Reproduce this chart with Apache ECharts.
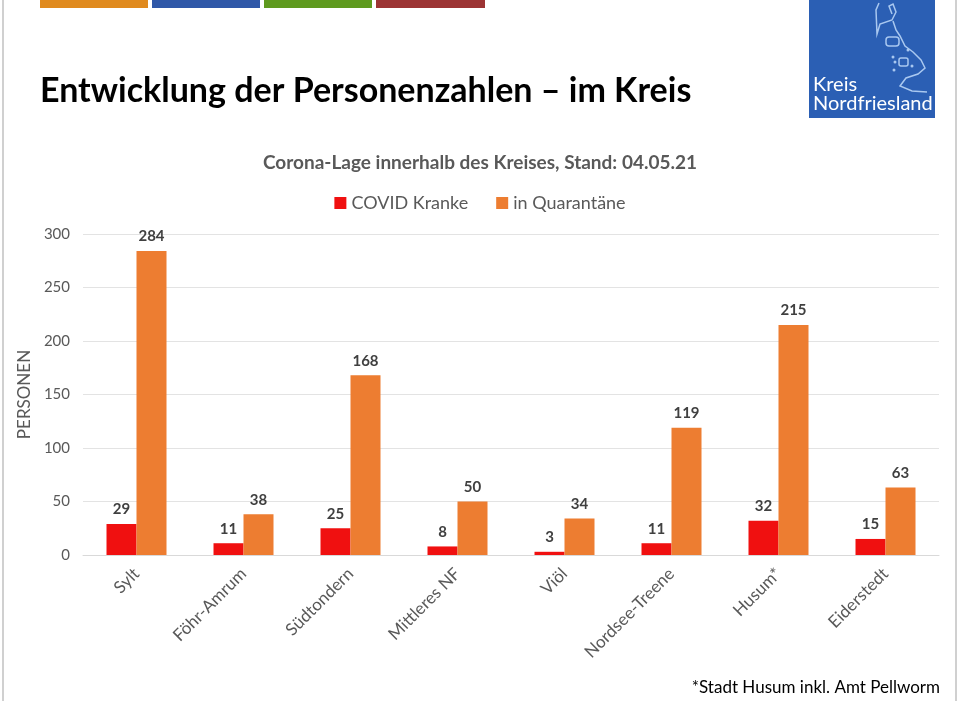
<!DOCTYPE html>
<html>
<head>
<meta charset="utf-8">
<script src="https://cdn.jsdelivr.net/npm/echarts@6/dist/echarts.min.js"></script>
<style>
  html, body { margin: 0; padding: 0; background: #fff; }
  #main { width: 960px; height: 701px; }
</style>
</head>
<body>
<div id="main"></div>
<script>
// Daten
const regions = ['Sylt', 'Föhr-Amrum', 'Südtondern', 'Mittleres NF', 'Viöl', 'Nordsee-Treene', 'Husum*', 'Eiderstedt'];
const kranke = [29, 11, 25, 8, 3, 11, 32, 15];
const quarantaene = [284, 38, 168, 50, 34, 119, 215, 63];
const seriesNames = ['COVID Kranke', 'in Quarantäne'];

window.addEventListener('load', function () {
    let chart = echarts.init(document.getElementById('main'));

    let labelStyle = {
        show: true,
        position: 'top',
        fontFamily: 'Lato',
        fontWeight: 'bold',
        fontSize: 15,
        color: '#404040',
        distance: 7
    };

    let option = {
        backgroundColor: '#fff',
        animation: false,
        textStyle: { fontFamily: 'Lato' },
        title: {
            text: 'Corona-Lage innerhalb des Kreises, Stand: 04.05.21',
            left: 'center',
            top: 148,
            textStyle: { fontFamily: 'Lato', fontSize: 19, fontWeight: 'bold', color: '#595959' }
        },
        legend: {
            top: 189,
            left: 'center',
            itemWidth: 12,
            itemHeight: 12,
            itemGap: 28,
            icon: 'rect',
            data: seriesNames,
            textStyle: { fontFamily: 'Lato', fontSize: 18, color: '#595959' }
        },
        grid: { left: 83, right: 21, top: 234, bottom: 146 },
        xAxis: {
            type: 'category',
            data: regions,
            axisLine: { lineStyle: { color: '#d9d9d9' } },
            axisTick: { show: false },
            axisLabel: {
                rotate: 45,
                fontFamily: 'Lato',
                fontSize: 17,
                color: '#595959',
                margin: 16
            }
        },
        yAxis: {
            type: 'value',
            min: 0,
            max: 300,
            interval: 50,
            name: 'PERSONEN',
            nameLocation: 'middle',
            nameGap: 50,
            nameTextStyle: { fontFamily: 'Lato', fontSize: 17, color: '#595959' },
            axisLine: { show: false },
            axisTick: { show: false },
            axisLabel: { fontFamily: 'Lato', fontSize: 15, color: '#595959', margin: 13 },
            splitLine: { lineStyle: { color: '#e3e3e3' } }
        },
        series: [
            {
                name: seriesNames[0],
                type: 'bar',
                data: kranke,
                barWidth: 30,
                barGap: '0%',
                itemStyle: { color: '#f01010' },
                label: labelStyle
            },
            {
                name: seriesNames[1],
                type: 'bar',
                data: quarantaene,
                barWidth: 30,
                itemStyle: { color: '#ed7d31' },
                label: labelStyle
            }
        ],
        graphic: [
            // Folienrand
            { type: 'line', shape: { x1: 3, y1: 0, x2: 3, y2: 701 }, style: { stroke: '#d0d0d0', lineWidth: 2 } },
            { type: 'line', shape: { x1: 956, y1: 0, x2: 956, y2: 701 }, style: { stroke: '#d0d0d0', lineWidth: 2 } },
            // Farbbalken oben
            { type: 'rect', shape: { x: 40, y: 0, width: 108, height: 8 }, style: { fill: '#e08a1e' } },
            { type: 'rect', shape: { x: 152, y: 0, width: 108, height: 8 }, style: { fill: '#2f58a8' } },
            { type: 'rect', shape: { x: 264, y: 0, width: 108, height: 8 }, style: { fill: '#5f9a1f' } },
            { type: 'rect', shape: { x: 376, y: 0, width: 109, height: 8 }, style: { fill: '#9c3434' } },
            // Überschrift
            {
                type: 'text', left: 40, top: 74,
                style: { text: 'Entwicklung der Personenzahlen – im Kreis', font: 'bold 34px Lato', fill: '#000' }
            },
            // Logo
            { type: 'rect', shape: { x: 809, y: 0, width: 126, height: 118 }, style: { fill: '#2b5fb4' } },
            {
                type: 'polyline',
                shape: { points: [[879, 3], [876, 10], [877, 34], [880, 24], [892, 20], [896, 12], [893, 4], [889, 6], [892, 14]] },
                style: { fill: null, stroke: '#a9c8f0', lineWidth: 1.5 }
            },
            {
                type: 'polyline',
                shape: { points: [[893, 21], [896, 30], [900, 36], [905, 46], [913, 52], [921, 60], [925, 68], [918, 74], [906, 78], [900, 86], [912, 91], [927, 92]] },
                style: { fill: null, stroke: '#a9c8f0', lineWidth: 1.5 }
            },
            { type: 'rect', shape: { x: 886, y: 37, width: 13, height: 9, r: 3 }, style: { fill: null, stroke: '#a9c8f0', lineWidth: 1.5 } },
            { type: 'rect', shape: { x: 899, y: 58, width: 9, height: 8, r: 2 }, style: { fill: null, stroke: '#a9c8f0', lineWidth: 1.5 } },
            { type: 'circle', shape: { cx: 893, cy: 57, r: 1.5 }, style: { fill: '#a9c8f0' } },
            { type: 'circle', shape: { cx: 895, cy: 62, r: 1.5 }, style: { fill: '#a9c8f0' } },
            { type: 'circle', shape: { cx: 894, cy: 70, r: 1.5 }, style: { fill: '#a9c8f0' } },
            { type: 'circle', shape: { cx: 908, cy: 50, r: 1.5 }, style: { fill: '#a9c8f0' } },
            { type: 'circle', shape: { cx: 912, cy: 66, r: 1.5 }, style: { fill: '#a9c8f0' } },
            {
                type: 'text', left: 813, top: 75,
                style: { text: 'Kreis', font: '20px Lato', fill: '#fff' }
            },
            {
                type: 'text', left: 813, top: 94,
                style: { text: 'Nordfriesland', font: '20px Lato', fill: '#fff' }
            },
            // Fußnote
            {
                type: 'text', right: 20, top: 679,
                style: { text: '*Stadt Husum inkl. Amt Pellworm', font: '17px Lato', fill: '#000' }
            }
        ]
    };

    chart.setOption(option);
}, false);
</script>
</body>
</html>
